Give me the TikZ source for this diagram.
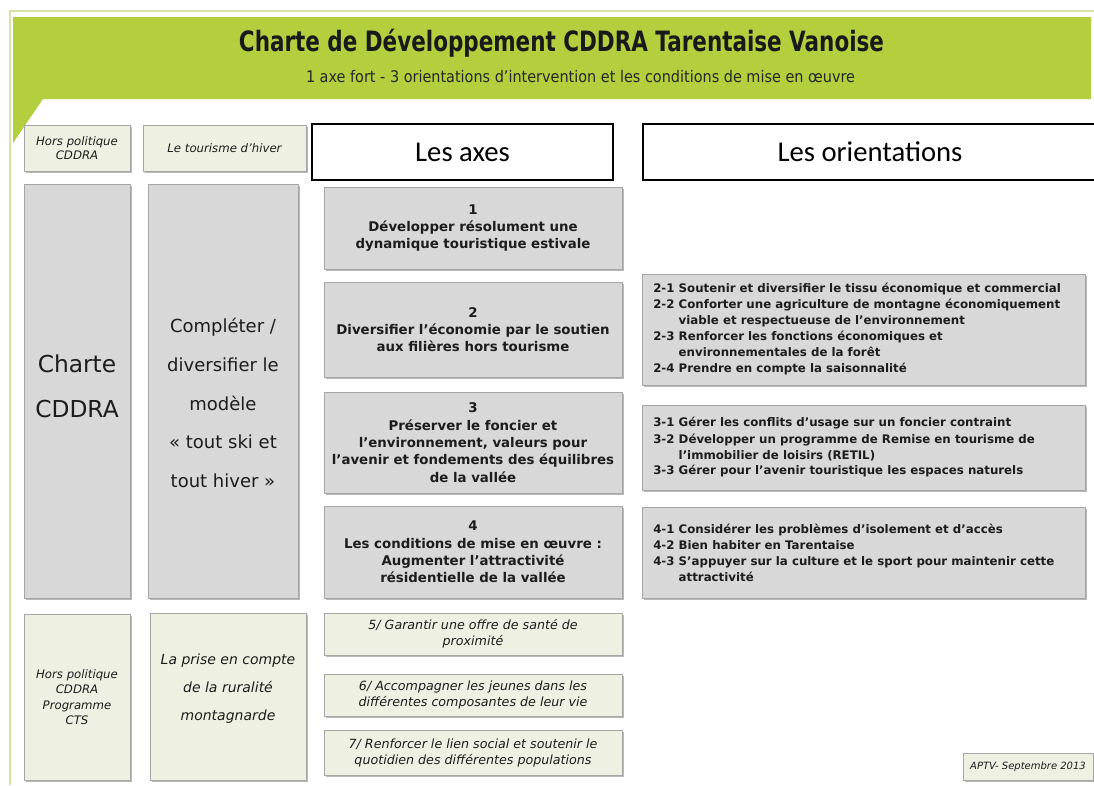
\documentclass[tikz,border=0pt]{standalone}
\usepackage{graphicx}
\usepackage{fontspec}
\setmainfont{DejaVu Sans}[ItalicFont={DejaVu Sans Oblique},BoldFont={DejaVu Sans Bold},BoldItalicFont={DejaVu Sans Bold Oblique}]
\newfontfamily\calib{Carlito}
\usetikzlibrary{shadows}
\definecolor{banner}{HTML}{B3CF3E}
\definecolor{frameg}{HTML}{D5E4A6}
\definecolor{boxgray}{HTML}{D8D8D8}
\definecolor{boxgreen}{HTML}{EEF1E2}
\definecolor{txt}{HTML}{1C1C1C}
\newcommand{\ind}{\hphantom{2-2\ }}
\begin{document}
\begin{tikzpicture}[x=0.75pt,y=-0.75pt,
  base/.style={draw=black!35, line width=0.4pt, inner sep=0pt, align=center, text=txt,
    drop shadow={shadow xshift=1.3pt, shadow yshift=-1.3pt, fill=black, opacity=0.28}},
  graybox/.style={base, fill=boxgray},
  greenbox/.style={base, fill=boxgreen},
  headbox/.style={draw=black, line width=1.1pt, fill=white, inner sep=0pt,
    font=\calib\fontsize{21.5}{24}\selectfont},
  smallit/.style={font=\itshape\fontsize{8.8}{10.5}\selectfont},
  axefont/.style={font=\bfseries\fontsize{10}{13}\selectfont},
  itfont/.style={font=\itshape\fontsize{9.5}{12}\selectfont},
  orfont/.style={font=\bfseries\fontsize{8.85}{12}\selectfont, align=left, inner sep=0pt, text=txt}]
\useasboundingbox (0,0) rectangle (1094,785);
\fill[white] (0,0) rectangle (1094,785);
% frame and banner
\draw[frameg, line width=0.9pt] (10,785) -- (10,11) -- (1094,11);
\fill[banner] (13,17) -- (1091,17) -- (1091,99) -- (43,99) -- (13,143) -- cycle;
\node[font=\bfseries\fontsize{21}{24}\selectfont, text=black!90, inner sep=0pt] (title) at (561.5,43)
  {\resizebox{483.75pt}{\height}{Charte de Développement CDDRA Tarentaise Vanoise}};
\node[font=\fontsize{12}{14}\selectfont, text=black!85, inner sep=0pt] (subtitle) at (580.5,77)
  {\resizebox{411.75pt}{\height}{1 axe fort - 3 orientations d’intervention et les conditions de mise en œuvre}};
% column headers
\node[headbox, minimum width=225.75pt, minimum height=42pt] (axes) at (462.5,152) {\raisebox{-1.5pt}{Les axes}};
\node[headbox, minimum width=340.5pt, minimum height=42pt] (orient) at (870,152) {\raisebox{-1.5pt}{Les orientations}};
% left columns
\node[greenbox, smallit, minimum width=79.5pt, minimum height=34.5pt] (hp1) at (77,148) {Hors politique\\CDDRA};
\node[greenbox, smallit, minimum width=122.25pt, minimum height=34.5pt] (th) at (224.5,148) {Le tourisme d’hiver};
\node[graybox, minimum width=79.5pt, minimum height=310.5pt] (charte) at (77,391) {};
\node[font=\fontsize{17.5}{34}\selectfont, align=center, text=txt, inner sep=0pt] (chartetxt) at (77,386) {Charte\\CDDRA};
\node[graybox, minimum width=112.5pt, minimum height=310.5pt] (compl) at (223,391) {};
\node[font=\fontsize{13.5}{29}\selectfont, align=center, text=txt, inner sep=0pt] (compltxt) at (223,403)
  {Compléter /\\diversifier le\\modèle\\« tout ski et\\tout hiver »};
\node[greenbox, font=\itshape\fontsize{8.8}{11.5}\selectfont, minimum width=79.5pt, minimum height=124.5pt] (hp2) at (77,697)
  {Hors politique\\CDDRA\\Programme\\CTS};
\node[greenbox, minimum width=117pt, minimum height=125.25pt] (rur) at (228,696.5) {};
\node[font=\itshape\fontsize{10.5}{21}\selectfont, align=center, text=txt, inner sep=0pt] (rurtxt) at (228,689)
  {La prise en compte\\de la ruralité\\montagnarde};
% axes
\node[graybox, axefont, minimum width=223.5pt, minimum height=61.5pt] (a1) at (473,228)
  {1\\Développer résolument une\\dynamique touristique estivale};
\node[graybox, axefont, minimum width=223.5pt, minimum height=71.25pt] (a2) at (473,329.5)
  {2\\Diversifier l’économie par le soutien\\aux filières hors tourisme};
\node[graybox, axefont, minimum width=223.5pt, minimum height=75.75pt] (a3) at (473,442.5)
  {3\\Préserver le foncier et\\l’environnement, valeurs pour\\l’avenir et fondements des équilibres\\de la vallée};
\node[graybox, axefont, minimum width=223.5pt, minimum height=69pt] (a4) at (473,552)
  {4\\Les conditions de mise en œuvre :\\Augmenter l’attractivité\\résidentielle de la vallée};
\node[greenbox, itfont, minimum width=223.5pt, minimum height=31.5pt] (a5) at (473,634)
  {5/ Garantir une offre de santé de\\proximité};
\node[greenbox, itfont, minimum width=223.5pt, minimum height=31.5pt] (a6) at (473,695)
  {6/ Accompagner les jeunes dans les\\différentes composantes de leur vie};
\node[greenbox, itfont, minimum width=223.5pt, minimum height=33.75pt] (a7) at (473,752.5)
  {7/ Renforcer le lien social et soutenir le\\quotidien des différentes populations};
% orientations
\node[graybox, minimum width=332.25pt, minimum height=83.25pt] (o2) at (863.5,329.5) {};
\node[orfont, anchor=west] (o2txt) at (653,329.5)
  {2-1 Soutenir et diversifier le tissu économique et commercial\\
   2-2 Conforter une agriculture de montagne économiquement\\
   \ind viable et respectueuse de l’environnement\\
   2-3 Renforcer les fonctions économiques et\\
   \ind environnementales de la forêt\\
   2-4 Prendre en compte la saisonnalité};
\node[graybox, minimum width=332.25pt, minimum height=63.75pt] (o3) at (863.5,447.5) {};
\node[orfont, anchor=west] (o3txt) at (653,447.5)
  {3-1 Gérer les conflits d’usage sur un foncier contraint\\
   3-2 Développer un programme de Remise en tourisme de\\
   \ind l’immobilier de loisirs (RETIL)\\
   3-3 Gérer pour l’avenir touristique les espaces naturels};
\node[graybox, minimum width=332.25pt, minimum height=68.25pt] (o4) at (863.5,552.5) {};
\node[orfont, anchor=west] (o4txt) at (653,552.5)
  {4-1 Considérer les problèmes d’isolement et d’accès\\
   4-2 Bien habiter en Tarentaise\\
   4-3 S’appuyer sur la culture et le sport pour maintenir cette\\
   \ind attractivité};
% footer
\node[greenbox, font=\itshape\fontsize{7.5}{9}\selectfont, minimum width=97.5pt, minimum height=20.25pt] (aptv) at (1028,766.5)
  {APTV- Septembre 2013};
\end{tikzpicture}
\end{document}
